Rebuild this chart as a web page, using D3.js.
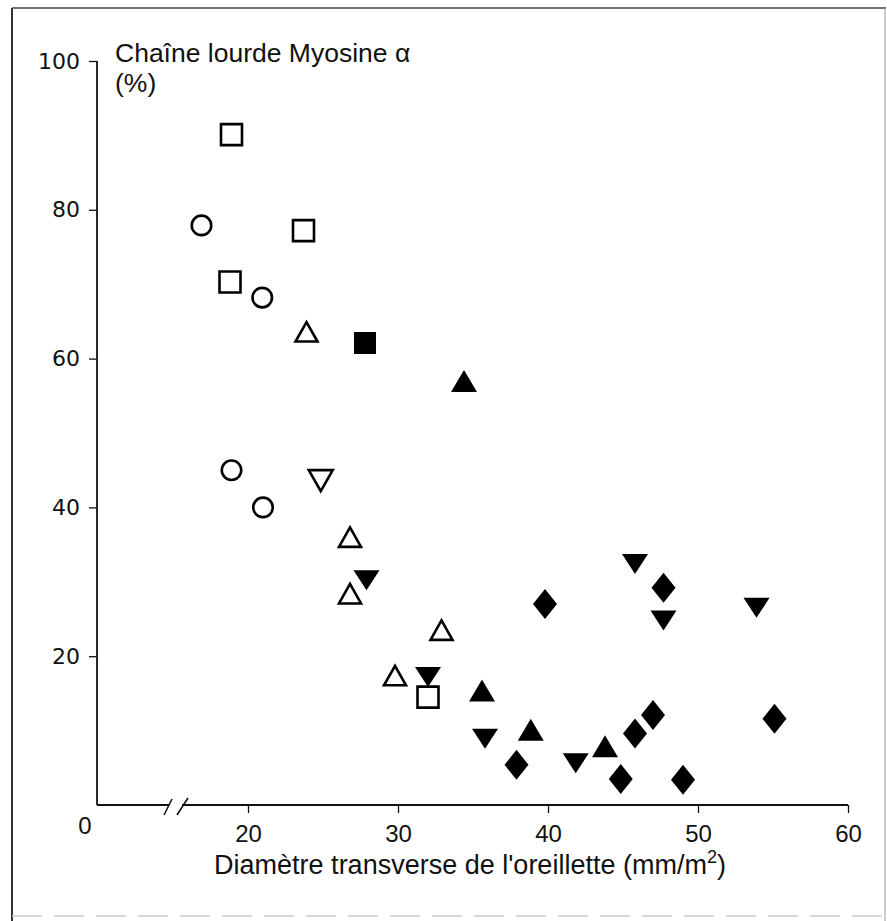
<!DOCTYPE html>
<html>
<head>
<meta charset="utf-8">
<script src="https://cdn.jsdelivr.net/npm/d3@7"></script>
<style>
  body { margin: 0; background: #fff; }
  svg { display: block; }
  .tick text { fill: #111; }
</style>
</head>
<body>
<div id="chart"></div>
<script>
// values: [diameter (mm/m2), myosin alpha (%)]
const openSquares = [[18.9, 90.1], [23.7, 77.2], [18.8, 70.3], [32.0, 14.5]];
const openCircles = [[16.9, 77.9], [20.95, 68.2], [18.9, 45.0], [21.0, 40.0]];
const openTriangles = [[23.9, 63.6], [26.8, 36.0], [26.8, 28.4], [32.9, 23.5], [29.8, 17.4]];
const openDownTriangles = [[24.85, 43.6]];
const filledSquares = [[27.8, 62.1]];
const filledTriangles = [[34.4, 57.0], [35.6, 15.4], [38.85, 10.1], [43.8, 7.9]];
const filledDownTriangles = [[27.9, 30.2], [32.0, 17.2], [35.8, 8.9], [41.85, 5.6], [45.8, 32.4], [47.7, 24.8], [53.9, 26.5]];
const filledDiamonds = [[39.8, 27.0], [37.9, 5.4], [47.7, 29.2], [47.0, 12.1], [45.8, 9.6], [44.85, 3.5], [49.0, 3.4], [55.1, 11.6]];

const xTicks = [20, 30, 40, 50, 60];
const yTicks = [20, 40, 60, 80, 100];
const yTitle = ["Chaîne lourde Myosine α", "(%)"];
const xTitle = "Diamètre transverse de l'oreillette (mm/m";

const width = 887, height = 921;
const originX = 97, originY = 805;

var svg = d3.select("#chart").append("svg")
    .attr("width", width)
    .attr("height", height);

// frame around the figure
svg.append("line").attr("x1", 12).attr("y1", 8).attr("x2", 12).attr("y2", height)
    .attr("stroke", "#333").attr("stroke-width", 2);
svg.append("line").attr("x1", 12).attr("y1", 8).attr("x2", 886).attr("y2", 8)
    .attr("stroke", "#444").attr("stroke-width", 1.5);
svg.append("line").attr("x1", 885).attr("y1", 8).attr("x2", 885).attr("y2", height)
    .attr("stroke", "#999").attr("stroke-width", 1);
svg.append("line").attr("x1", 12).attr("y1", 916).attr("x2", 886).attr("y2", 916)
    .attr("stroke", "#ccc").attr("stroke-width", 1.5).attr("stroke-dasharray", "30,12");

// x axis is broken between 0 and ~15
var xScale = d3.scaleLinear()
    .domain([20, 60])
    .range([248, 848]);

var yScale = d3.scaleLinear()
    .domain([0, 100])
    .range([originY, 61]);

var yAxis = d3.axisLeft(yScale)
    .tickValues(yTicks)
    .tickSize(8)
    .tickPadding(9);

var gy = svg.append("g")
    .attr("transform", "translate(" + originX + ",0)")
    .call(yAxis);
gy.select(".domain").remove();
gy.selectAll(".tick line").attr("stroke", "#111").attr("stroke-width", 1.3);
gy.selectAll(".tick text")
    .attr("font-family", "DejaVu Sans")
    .attr("font-size", 22);

svg.append("line")
    .attr("x1", originX).attr("x2", originX)
    .attr("y1", yScale(100)).attr("y2", originY)
    .attr("stroke", "#111").attr("stroke-width", 1.8);

var xAxis = d3.axisBottom(xScale)
    .tickValues(xTicks)
    .tickSize(8)
    .tickPadding(12);

var gx = svg.append("g")
    .attr("transform", "translate(0," + originY + ")")
    .call(xAxis);
gx.select(".domain").remove();
gx.selectAll(".tick line").attr("stroke", "#111").attr("stroke-width", 1.3);
gx.selectAll(".tick text")
    .attr("font-family", "Liberation Sans, Arial")
    .attr("font-size", 24);

// axis line with the break marks
svg.append("line")
    .attr("x1", originX).attr("x2", 169)
    .attr("y1", originY).attr("y2", originY)
    .attr("stroke", "#111").attr("stroke-width", 1.8);
svg.append("line")
    .attr("x1", 182).attr("x2", xScale(60))
    .attr("y1", originY).attr("y2", originY)
    .attr("stroke", "#111").attr("stroke-width", 1.8);
[[164, 815, 172, 799], [177, 815, 188, 798]].forEach(function (s) {
    svg.append("line")
        .attr("x1", s[0]).attr("y1", s[1]).attr("x2", s[2]).attr("y2", s[3])
        .attr("stroke", "#111").attr("stroke-width", 1.6);
});

// shared origin label
svg.append("text")
    .attr("x", 85).attr("y", 834)
    .attr("text-anchor", "middle")
    .attr("font-family", "Liberation Sans, Arial")
    .attr("font-size", 24)
    .attr("fill", "#111")
    .text("0");

// titles
yTitle.forEach(function (t, i) {
    svg.append("text")
        .attr("x", 115).attr("y", 62 + i * 30)
        .attr("font-family", "Liberation Sans, Arial")
        .attr("font-size", 26.5)
        .attr("fill", "#111")
        .text(t);
});

var xt = svg.append("text")
    .attr("x", 470).attr("y", 874)
    .attr("text-anchor", "middle")
    .attr("font-family", "Liberation Sans, Arial")
    .attr("font-size", 27)
    .attr("fill", "#111");
xt.append("tspan").text(xTitle);
xt.append("tspan").attr("font-size", 18).attr("dy", -11).text("2");
xt.append("tspan").attr("dy", 11).text(")");

// marker shapes, centred on their bounding box
function shapePath(shape, w, h) {
    var a = w / 2, b = h / 2;
    if (shape === "square") return "M" + (-a) + "," + (-b) + "H" + a + "V" + b + "H" + (-a) + "Z";
    if (shape === "up") return "M" + (-a) + "," + b + "L" + a + "," + b + "L0," + (-b) + "Z";
    if (shape === "down") return "M" + (-a) + "," + (-b) + "L" + a + "," + (-b) + "L0," + b + "Z";
    if (shape === "diamond") return "M0," + (-b) + "L" + a + ",0L0," + b + "L" + (-a) + ",0Z";
    return "";
}

var groups = [
    { data: openSquares, shape: "square", filled: false, w: 21, h: 21 },
    { data: openCircles, shape: "circle", filled: false, w: 19.5, h: 19.5 },
    { data: openTriangles, shape: "up", filled: false, w: 22, h: 19.5 },
    { data: openDownTriangles, shape: "down", filled: false, w: 24, h: 21 },
    { data: filledSquares, shape: "square", filled: true, w: 22, h: 22 },
    { data: filledTriangles, shape: "up", filled: true, w: 26, h: 22 },
    { data: filledDownTriangles, shape: "down", filled: true, w: 26, h: 20 },
    { data: filledDiamonds, shape: "diamond", filled: true, w: 24, h: 30 }
];

groups.forEach(function (g) {
    var sel = svg.append("g").selectAll("path")
        .data(g.data)
        .enter();
    var marks;
    if (g.shape === "circle") {
        marks = sel.append("circle")
            .attr("cx", function (d) { return xScale(d[0]); })
            .attr("cy", function (d) { return yScale(d[1]); })
            .attr("r", g.w / 2);
    } else {
        marks = sel.append("path")
            .attr("d", shapePath(g.shape, g.w, g.h))
            .attr("transform", function (d) {
                return "translate(" + xScale(d[0]) + "," + yScale(d[1]) + ")";
            });
    }
    marks.attr("fill", g.filled ? "#000" : "#fff")
        .attr("stroke", g.filled ? "none" : "#000")
        .attr("stroke-width", 2.6)
        .attr("stroke-linejoin", "miter");
});
</script>
</body>
</html>
